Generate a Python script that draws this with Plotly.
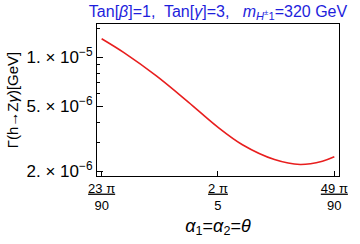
import plotly.graph_objects as go
import math

# data (theta in radians, width in GeV)
theta = [0.8029, 0.8913, 1.0164, 1.141, 1.2535, 1.352, 1.477, 1.577, 1.664, 1.7104]
gamma = [1.297e-5, 1.063e-5, 7.68e-6, 5.31e-6, 3.755e-6, 2.91e-6, 2.363e-6, 2.205e-6, 2.31e-6, 2.455e-6]

x_tickvals = [23 * math.pi / 90, 2 * math.pi / 5, 49 * math.pi / 90]
x_ticktext = ["<u>23 π</u><br>90", "<u>2 π</u><br>5", "<u>49 π</u><br>90"]
y_tickvals = [2e-6, 5e-6, 1e-5]
y_ticktext = ["2. × 10<sup>−6</sup>", "5. × 10<sup>−6</sup>", "1. × 10<sup>−5</sup>"]
y_minor = [3e-6, 4e-6, 6e-6, 7e-6, 8e-6, 9e-6, 1.5e-5]

fig = go.Figure()
fig.add_trace(go.Scatter(x=theta, y=gamma, mode="lines",
                         line=dict(color="rgb(232,30,30)", width=1.6, shape="spline", smoothing=1.0),
                         showlegend=False, hoverinfo="skip"))

fig.update_layout(
    width=360, height=244,
    margin=dict(l=96, r=12, t=24, b=65),
    paper_bgcolor="white", plot_bgcolor="white",
    font=dict(family="Liberation Sans, Arial, sans-serif", color="black", size=15),
    title=dict(
        text="Tan[<i>β</i>]=1,  Tan[<i>γ</i>]=3,   <i>m</i><sub><i>H</i><sup>±</sup>1</sub>=320 GeV",
        font=dict(color="rgb(30,30,220)", size=16),
        x=0.5, xref="paper", xanchor="center", y=0.955, yanchor="middle"),
)
fig.update_xaxes(
    range=[0.7848, 1.7286], showgrid=False, zeroline=False,
    showline=True, linecolor="black", linewidth=1, mirror=True,
    ticks="inside", ticklen=5, tickcolor="black", tickwidth=1,
    tickmode="array", tickvals=x_tickvals, ticktext=x_ticktext,
    tickfont=dict(size=13),
    title=dict(text="<i>α</i><sub>1</sub>=<i>α</i><sub>2</sub>=<i>θ</i>", font=dict(size=18), standoff=7),
)
fig.update_yaxes(
    type="log", range=[math.log10(1.874e-6), math.log10(1.596e-5)],
    showgrid=False, zeroline=False,
    showline=True, linecolor="black", linewidth=1, mirror=True,
    ticks="inside", ticklen=6, tickcolor="black", tickwidth=1,
    tickmode="array", tickvals=y_tickvals, ticktext=y_ticktext,
    tickfont=dict(size=17),
    minor=dict(tickmode="array", tickvals=y_minor, ticks="inside", ticklen=3, tickcolor="black", showgrid=False),
    title=dict(text="Γ(h→Z<i>γ</i>)[GeV]", font=dict(size=15), standoff=4),
)

fig.write_html("out.html", post_script="document.body.style.margin='0';",
               config={"displayModeBar": False})
